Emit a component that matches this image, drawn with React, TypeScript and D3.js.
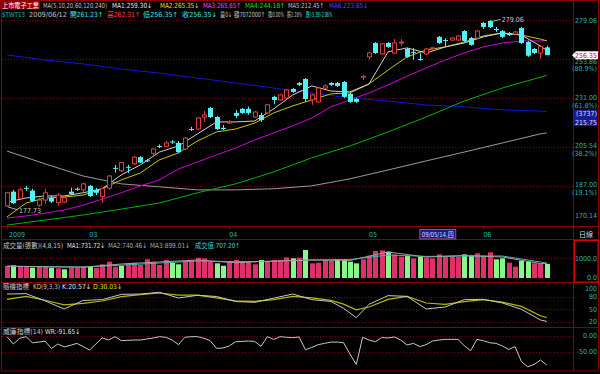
import * as d3 from "d3";

// ---- daily candles, 2009/02 .. 2009/06/12 ----
const OPEN = [178.2, 184.4, 181.5, 186.1, 184.9, 178.5, 180.7, 181.6, 179.6, 179.8, 184.4, 185.7, 185.2, 187.0, 185.2, 182.2, 186.0, 195.3, 194.0, 195.8, 197.2, 200.4, 198.9, 202.3, 205.9, 205.7, 208.1, 207.4, 204.4, 214.5, 214.5, 220.8, 225.7, 220.8, 215.1, 217.6, 223.0, 225.2, 225.2, 220.8, 221.9, 223.0, 231.8, 230.1, 231.2, 236.3, 239.7, 242.0, 230.1, 229.0, 236.8, 239.7, 239.7, 240.3, 233.5, 230.6, 243.1, 255.3, 264.0, 257.1, 264.0, 257.7, 264.0, 260.2, 258.4, 254.0, 257.1, 260.6, 267.9, 265.9, 265.9, 265.9, 271.7, 267.2, 267.2, 277.1, 278.4, 273.1, 271.7, 270.4, 269.8, 273.7, 264.6, 260.2, 257.7, 261.23];
const HIGH = [184.3, 185.2, 186.1, 187.0, 185.7, 181.6, 185.7, 182.5, 183.9, 182.5, 186.1, 186.3, 188.4, 187.4, 186.1, 186.1, 192.0, 196.7, 198.1, 196.7, 201.0, 201.0, 199.6, 204.9, 206.7, 208.4, 208.9, 208.4, 210.4, 215.6, 220.8, 224.1, 226.2, 221.4, 216.6, 219.2, 224.6, 225.7, 226.5, 224.1, 223.1, 227.9, 232.4, 233.5, 236.3, 236.8, 240.3, 242.6, 233.5, 237.4, 239.1, 240.3, 240.3, 240.8, 234.0, 231.2, 244.3, 258.5, 264.6, 264.0, 264.6, 266.5, 266.5, 260.9, 260.7, 257.6, 260.9, 261.5, 268.5, 267.0, 267.9, 269.1, 272.4, 267.9, 272.4, 277.7, 279.06, 274.4, 272.4, 271.1, 271.7, 274.4, 265.3, 260.9, 262.1, 262.31];
const LOW = [177.73, 178.9, 181.1, 184.8, 179.8, 177.8, 179.0, 179.4, 178.2, 179.4, 182.9, 184.8, 184.3, 182.0, 182.9, 179.5, 185.2, 193.1, 193.4, 192.9, 196.7, 197.6, 198.1, 201.5, 204.9, 205.4, 206.9, 202.4, 203.9, 213.5, 214.0, 218.2, 220.3, 214.0, 214.0, 217.1, 220.3, 222.5, 222.0, 220.3, 218.2, 222.5, 227.9, 229.6, 230.6, 234.0, 238.0, 229.0, 227.4, 228.5, 236.3, 238.0, 237.4, 231.2, 228.5, 228.5, 241.4, 253.8, 257.1, 256.5, 260.9, 257.1, 262.3, 254.7, 253.4, 252.9, 256.5, 259.6, 263.4, 261.7, 265.3, 265.3, 264.6, 262.2, 266.5, 273.1, 273.7, 271.1, 267.2, 268.5, 269.1, 263.4, 255.3, 257.1, 254.1, 256.35];
const CLOSE = [183.9, 179.3, 185.2, 185.7, 180.3, 180.7, 183.9, 180.0, 182.9, 181.6, 183.4, 185.2, 187.9, 182.5, 183.9, 185.7, 191.5, 195.0, 197.8, 195.5, 200.4, 197.8, 198.6, 204.4, 205.7, 207.4, 207.8, 202.9, 209.9, 214.3, 220.3, 221.9, 220.8, 214.5, 214.5, 218.2, 221.4, 223.0, 223.0, 223.5, 219.2, 227.4, 230.1, 232.9, 235.7, 234.6, 238.6, 230.6, 232.9, 236.8, 238.0, 238.6, 238.0, 231.8, 229.0, 229.0, 243.4, 257.7, 257.7, 263.4, 261.5, 264.0, 264.6, 255.3, 258.1, 253.7, 260.2, 260.9, 264.0, 265.6, 267.2, 268.5, 265.3, 262.8, 271.7, 274.4, 274.4, 272.4, 267.9, 269.1, 271.1, 264.0, 256.0, 257.7, 261.74, 256.35];

const MA_IDX = [0, 3, 6, 9, 12, 15, 18, 21, 24, 27, 30, 33, 36, 39, 42, 45, 48, 51, 54, 57, 60, 63, 66, 69, 72, 75, 78, 81, 84, 85];
const MA5 = [179.8, 181.6, 182.5, 182.5, 183.9, 185.7, 192.0, 196.7, 202.9, 205.9, 212.0, 218.2, 218.2, 218.7, 225.2, 232.9, 238.0, 235.1, 234.6, 239.1, 258.4, 260.9, 257.7, 261.5, 264.0, 267.9, 270.5, 269.1, 262.1, 259.3];
const MA10 = [173.5, 179.4, 181.6, 182.0, 182.9, 185.7, 189.7, 192.9, 199.1, 202.5, 208.4, 213.0, 214.5, 217.6, 223.0, 226.8, 230.1, 233.5, 234.0, 239.1, 247.3, 255.3, 259.6, 261.5, 264.6, 268.5, 270.5, 269.1, 266.5, 265.35];
const MA20 = [173.0, 173.9, 175.1, 176.4, 178.5, 181.1, 183.9, 187.0, 189.7, 194.8, 198.1, 201.5, 204.9, 208.9, 212.5, 216.1, 220.3, 226.3, 230.1, 234.0, 238.6, 243.7, 248.5, 253.4, 257.7, 261.5, 264.0, 265.3, 265.3, 265.65];
const LONG_IDX = [0, 6, 12, 18, 24, 30, 36, 42, 48, 54, 60, 66, 72, 78, 84, 85];
const MA60 = [170.1, 172.2, 174.3, 176.8, 179.4, 183.9, 187.9, 193.4, 200.1, 205.9, 213.0, 220.8, 229.5, 236.8, 243.1, 244.18];
const MA120 = [203.4, 197.2, 191.5, 187.9, 186.55, 185.2, 185.2, 185.7, 187.0, 190.2, 194.3, 198.6, 202.9, 207.4, 212.0, 212.45];
const MA240 = [256.5, 253.4, 251.0, 247.9, 245.5, 242.6, 239.7, 236.8, 234.0, 231.2, 229.5, 227.3, 226.3, 224.6, 224.0, 223.65];

// volume (張) and bar colour, 1 = up day
const VOLUME = [600, 635, 565, 565, 515, 565, 565, 515, 485, 435, 515, 515, 565, 565, 515, 685, 815, 565, 615, 735, 765, 650, 935, 815, 650, 900, 765, 685, 850, 900, 1015, 985, 815, 735, 615, 815, 900, 850, 815, 685, 900, 850, 900, 900, 1035, 985, 1015, 1400, 733, 767, 900, 870, 950, 933, 817, 733, 933, 1117, 1350, 1383, 1317, 1183, 1067, 1100, 983, 1067, 1017, 983, 1183, 1067, 1117, 1050, 1183, 1117, 1233, 1117, 1283, 933, 983, 767, 567, 867, 820, 733, 700, 707];
const VOL_UP = [1, 0, 1, 1, 0, 1, 1, 0, 1, 0, 1, 1, 1, 0, 1, 1, 1, 1, 0, 1, 1, 1, 1, 1, 1, 1, 0, 0, 1, 1, 1, 1, 1, 0, 0, 1, 1, 1, 1, 1, 0, 1, 1, 1, 1, 0, 1, 0, 1, 1, 1, 1, 0, 0, 0, 0, 1, 1, 1, 1, 0, 1, 1, 0, 1, 0, 1, 1, 1, 1, 1, 1, 0, 0, 1, 1, 1, 0, 0, 1, 1, 0, 0, 1, 1, 0];
const VOL_MA1 = [590, 560, 540, 700, 800, 900, 760, 850, 900, 880, 1300, 1050, 1120, 1050, 720, 735];
const VOL_MA2 = [590, 570, 550, 640, 750, 850, 820, 830, 900, 920, 1150, 1080, 1100, 1100, 800, 740];

// KD(9,3,3)
const KD_IDX = [0, 3, 6, 9, 12, 15, 18, 21, 24, 27, 30, 33, 36, 39, 42, 45, 48, 51, 53, 55, 57, 60, 63, 66, 69, 72, 75, 78, 81, 84, 85];
const K_VAL = [86.3, 87.1, 69.8, 50.5, 70.8, 72.8, 85.5, 86.3, 90.4, 76.8, 83.2, 80.4, 68.3, 66.4, 76.4, 86.3, 72.8, 68.5, 52.1, 29.6, 61.7, 82.4, 80.7, 50.5, 55.2, 72.8, 73.6, 64.8, 49.7, 24.1, 20.57];
const D_VAL = [73.6, 80.6, 71.3, 60.4, 64.0, 69.6, 79.9, 84.9, 88.7, 83.6, 83.6, 77.2, 69.9, 68.7, 72.8, 80.8, 77.1, 71.2, 62.0, 48.3, 55.2, 73.6, 80.5, 64.8, 61.7, 67.9, 72.8, 66.8, 56.7, 34.3, 30.03];

// Williams %R(14), every candle
const WR = [-3, -26, -8, -3, -22, -20, -17, -40, -26, -35, -30, -24, -34, -45, -26, -7, -13.5, -3, -15.6, -14.5, -13.5, -13.5, -10.4, -7.3, -3, -5, -13.5, -28, -5, -3, -3, -8, -15.6, -39.6, -38.5, -32, -18.8, -17.7, -16.7, -17.7, -33, -3, -11.5, -3, -5, -6, -4, -44, -36.5, -28, -24, -20, -20, -22, -57, -90, -5, -13.5, -18.8, -6, -7, -4, -13.5, -29, -24, -34, -28, -16.7, -13.5, -11.5, -11.5, -11.5, -31, -47, -11.5, -15.6, -22, -24, -32, -43, -34, -81, -97, -90, -76, -91.65];

// axis levels
const PRICE_TOP = 279.06;
const PRICE_BOTTOM = 170.14;
const FIB_VALUES = [253.86, 231.0, 205.54, 187.0];
const FIB_PCT = ["(80.9%)", "(61.8%)", "(38.2%)", "(19.1%)"];
const MONTH_LABELS = ["2009", "03", "04", "05", "06"];
const MONTH_IDX = [0, 13, 35, 57, 75];
const CURSOR_IDX = 65;
const KD_TICKS = [100, 80, 50, 20];
const WR_TICKS = [0, -50];

const RED = "#d8403c";
const CYAN = "#52f2f2";
const FRAME = "#8a0000";
const GRID = "#800000";
const AXIS_TXT = "#2ab4b4";
const FONT = "'Liberation Sans Narrow','DejaVu Sans Condensed','Noto Sans CJK TC',sans-serif";

const x = d3.scaleLinear().domain([0, CLOSE.length - 1]).range([7, 546.8]);
const yMain = d3.scaleLog().domain([PRICE_BOTTOM, PRICE_TOP]).range([225, 20]);
const yVol = d3.scaleLinear().domain([0, 1000]).range([278, 258]);
const yKD = d3.scaleLinear().domain([20, 100]).range([321.7, 288.3]);
const yWR = d3.scaleLinear().domain([-50, 0]).range([351.7, 335.7]);

const PLOT_L = 2;
const PLOT_R = 573.5;
const RIGHT = 598.5;

function path(idx: number[], vals: number[], y: (v: number) => number) {
  return (
    d3
      .line<number>()
      .x((_, k) => x(idx[k]))
      .y((v) => y(v))(vals) ?? ""
  );
}

// header segments: [text, left x, colour, width]
type Item = [string, number, string, number];

function Seg({ items, y }: { items: Item[]; y: number }) {
  return (
    <g fontSize={7} fontFamily={FONT}>
      {items.map(([t, tx, c, w], i) => (
        <text key={i} x={tx} y={y} fill={c} textLength={w} lengthAdjust="spacingAndGlyphs">
          {t}
        </text>
      ))}
    </g>
  );
}

export default function App() {
  const idxAll = CLOSE.map((_, i) => i);
  const hiIdx = HIGH.indexOf(d3.max(HIGH) as number);
  const loIdx = LOW.indexOf(d3.min(LOW) as number);
  const last = CLOSE[CLOSE.length - 1];
  const yLast = yMain(last);

  return (
    <svg
      width={600}
      height={374}
      style={{ position: "absolute", left: 0, top: 0, display: "block" }}
    >
      <rect width={600} height={374} fill="#000" />
      <defs>
        <clipPath id="mainClip">
          <rect x={PLOT_L} y={2} width={PLOT_R - PLOT_L} height={224.5} />
        </clipPath>
      </defs>

      {/* header */}
      <rect x={0} y={0} width={40} height={9.5} fill="#900000" />
      <Seg
        y={7.5}
        items={[
          ["上市電子工業", 2, "#ffffff", 37],
          ["MA(5,10,20,60,120,240)", 43, "#c0c0c0", 64],
          ["MA1:259.30↓", 112, "#e8e8e8", 40],
          ["MA2:265.35↓", 160, "#e0e000", 39],
          ["MA3:265.65↑", 203, "#ff40ff", 38],
          ["MA4:244.18↑", 245, "#00e000", 40],
          ["MA5:212.45↑", 288, "#c0c0c0", 36],
          ["MA6:223.65↓", 329, "#4848ff", 39],
        ]}
      />
      <Seg
        y={16.5}
        items={[
          ["$TWT13", 2, "#00c0c0", 23],
          ["2009/06/12", 29, "#c0c0c0", 38],
          ["開261.23↑", 70, "#40e0e0", 33],
          ["高262.31↑", 107, "#ff4040", 33],
          ["低256.35↑", 143, "#40e0e0", 35],
          ["收256.35↓", 182, "#40e0e0", 35],
          ["量0↓", 220, "#c0c0c0", 12],
          ["額7072000↑", 234, "#c0c0c0", 31],
          ["換0.00%", 268, "#c0c0c0", 16],
          ["振2.28%", 287, "#c0c0c0", 15],
          ["跌(-5.39)-2.06%", 306, "#40e0e0", 26],
        ]}
      />

      {/* grid */}
      <g stroke={GRID} strokeDasharray="1,2" strokeWidth={1}>
        {[PRICE_TOP, ...FIB_VALUES].map((v) => (
          <line
            key={v}
            x1={PLOT_L}
            x2={PLOT_R}
            y1={Math.round(yMain(v)) + 0.5}
            y2={Math.round(yMain(v)) + 0.5}
          />
        ))}
        <line x1={PLOT_L} x2={PLOT_R} y1={yVol(1000) + 0.5} y2={yVol(1000) + 0.5} />
        {[80, 50, 20].map((v) => (
          <line key={v} x1={PLOT_L} x2={PLOT_R} y1={Math.round(yKD(v)) + 0.5} y2={Math.round(yKD(v)) + 0.5} />
        ))}
        {WR_TICKS.map((v) => (
          <line key={v} x1={PLOT_L} x2={PLOT_R} y1={Math.round(yWR(v)) + 0.5} y2={Math.round(yWR(v)) + 0.5} />
        ))}
      </g>

      {/* moving averages + candles */}
      <g clipPath="url(#mainClip)" fill="none" strokeWidth={1}>
        <path d={path(LONG_IDX, MA240, yMain)} stroke="#1414d8" />
        <path d={path(LONG_IDX, MA120, yMain)} stroke="#9a9a9a" />
        <path d={path(LONG_IDX, MA60, yMain)} stroke="#00b400" />
        <path d={path(MA_IDX, MA20, yMain)} stroke="#d400d4" />
        <path d={path(MA_IDX, MA10, yMain)} stroke="#c8c800" />
        <path d={path(MA_IDX, MA5, yMain)} stroke="#d0d0d0" />
        {idxAll.map((i) => {
          const c = Math.round(x(i));
          const up = CLOSE[i] >= OPEN[i];
          const col = up ? RED : CYAN;
          const top = yMain(Math.max(OPEN[i], CLOSE[i]));
          const bot = yMain(Math.min(OPEN[i], CLOSE[i]));
          return (
            <g key={i}>
              <line x1={c + 0.5} x2={c + 0.5} y1={yMain(HIGH[i])} y2={yMain(LOW[i])} stroke={col} />
              {up ? (
                <rect x={c - 1.5} y={top} width={4} height={Math.max(0.5, bot - top)} fill="#000" stroke={col} />
              ) : (
                <rect x={c - 2} y={top} width={5} height={Math.max(1, bot - top)} fill={col} />
              )}
            </g>
          );
        })}
      </g>

      {/* high / low markers */}
      <g stroke="#b0b0b0" fill="none">
        <line x1={x(hiIdx) + 1.5} y1={yMain(HIGH[hiIdx]) + 1.5} x2={x(hiIdx) + 11} y2={yMain(HIGH[hiIdx]) - 0.5} />
        <line x1={x(loIdx) + 1} y1={yMain(LOW[loIdx])} x2={x(loIdx) + 11} y2={yMain(LOW[loIdx]) + 3} />
      </g>
      <g fontSize={7} fontFamily={FONT} fill="#c8c8c8">
        <text x={x(hiIdx) + 12} y={yMain(HIGH[hiIdx]) + 2}>
          {HIGH[hiIdx].toFixed(2)}
        </text>
        <text x={x(loIdx) + 12} y={yMain(LOW[loIdx]) + 6}>
          {LOW[loIdx].toFixed(2)}
        </text>
      </g>

      {/* volume */}
      <Seg
        y={247.5}
        items={[
          ["成交量(張數)(4,8,15)", 3, "#c8c8c8", 60],
          ["MA1:731.72↓", 67, "#e0e0e0", 38],
          ["MA2:740.46↓", 108, "#a8a8a8", 39],
          ["MA3:899.01↓", 150, "#a8a8a8", 40],
          ["成交值:707.20↑", 195, "#40d0d0", 45],
        ]}
      />
      {idxAll.map((i) => {
        const c = Math.round(x(i));
        return (
          <rect
            key={i}
            x={c - 2}
            y={yVol(VOLUME[i])}
            width={5}
            height={yVol(0) - yVol(VOLUME[i])}
            fill={VOL_UP[i] ? "#e0306c" : "#88f888"}
          />
        );
      })}
      <path d={path(LONG_IDX, VOL_MA2, yVol)} stroke="#38b8b8" fill="none" />
      <path d={path(LONG_IDX, VOL_MA1, yVol)} stroke="#a0a0a0" fill="none" />

      {/* KD */}
      <Seg
        y={288.5}
        items={[
          ["隨機指標", 3, "#c8c8c8", 26],
          ["KD(9,3,3)", 33, "#c8c8c8", 27],
          ["K:20.57↓", 62, "#e0e0e0", 29],
          ["D:30.03↓", 93, "#e0e000", 29],
        ]}
      />
      <path d={path(KD_IDX, D_VAL, yKD)} stroke="#b8b800" fill="none" strokeWidth={1.2} />
      <path d={path(KD_IDX, K_VAL, yKD)} stroke="#c8c8c8" fill="none" />

      {/* WR */}
      <Seg
        y={333.5}
        items={[
          ["威廉指標(14)", 3, "#c8c8c8", 40],
          ["WR:-91.65↓", 45, "#e0e0e0", 35],
        ]}
      />
      <path d={path(idxAll, WR, yWR)} stroke="#c8c8c8" fill="none" />

      {/* frame */}
      <g stroke={FRAME} strokeWidth={1} fill="none">
        <rect x={1.5} y={0.5} width={RIGHT - 1.5} height={370.5} />
        <line x1={PLOT_R} x2={PLOT_R} y1={0} y2={371} />
        {[226.5, 239.5, 282.5, 327.5].map((yy) => (
          <line key={yy} x1={1.5} x2={RIGHT} y1={yy} y2={yy} />
        ))}
        {MONTH_IDX.map((m) => (
          <line key={m} x1={Math.round(x(m)) + 0.5} x2={Math.round(x(m)) + 0.5} y1={226.5} y2={229.5} />
        ))}
      </g>
      <rect x={574.5} y={240.5} width={23.5} height={41.5} fill="none" stroke="#e00000" />

      {/* date axis */}
      <g fontSize={7} fontFamily={FONT} fill={AXIS_TXT}>
        {MONTH_LABELS.map((t, k) => (
          <text key={t} x={x(MONTH_IDX[k]) + (k === 0 ? 2 : 0)} y={236.5}>
            {t}
          </text>
        ))}
      </g>
      <rect x={x(CURSOR_IDX)} y={229.5} width={36} height={9.5} fill="#1a1a8a" stroke="#c04848" />
      <text
        x={x(CURSOR_IDX) + 18}
        y={237}
        fontSize={7}
        fontFamily={FONT}
        fill="#d8d8ff"
        textAnchor="middle"
        textLength={32}
        lengthAdjust="spacingAndGlyphs"
      >
        09/05/14,四
      </text>
      <text x={586} y={237} fontSize={7} fontFamily={FONT} fill="#d8d8d8" textAnchor="middle">
        日線
      </text>

      {/* right axis labels */}
      <g fontSize={7} fontFamily={FONT} fill={AXIS_TXT} textAnchor="end">
        <text x={597} y={yMain(PRICE_TOP) + 2.5}>{PRICE_TOP.toFixed(2)}</text>
        {FIB_VALUES.map((v, k) => (
          <g key={v}>
            <text x={597} y={yMain(v) + (k === 0 ? 4.5 : 1.5)}>{v.toFixed(2)}</text>
            <text x={597} y={yMain(v) + (k === 0 ? 11.5 : 9.5)}>{FIB_PCT[k]}</text>
          </g>
        ))}
        <text x={597} y={yMain(PRICE_BOTTOM) - 7.5}>{PRICE_BOTTOM.toFixed(2)}</text>
        <text x={597} y={yVol(1000) + 2.5}>1000.0</text>
        <text x={597} y={yVol(0) + 1.5}>0.0</text>
        {KD_TICKS.map((v) => (
          <text key={v} x={597} y={yKD(v) + 2.5}>{v}</text>
        ))}
        {WR_TICKS.map((v) => (
          <text key={v} x={597} y={yWR(v) + 2.5}>{v.toFixed(2)}</text>
        ))}
      </g>

      {/* last price marker */}
      <polygon
        points={`572,${yLast} 576,${yLast - 4} 598,${yLast - 4} 598,${yLast + 4} 576,${yLast + 4}`}
        fill="#ffffff"
      />
      <text x={597} y={yLast + 2.5} fontSize={7} fontFamily={FONT} fill="#e00000" textAnchor="end">
        {last.toFixed(2)}
      </text>

      {/* cursor value box */}
      <rect x={574} y={109.5} width={23.5} height={16.5} fill="#1a1a8a" />
      <g fontSize={7} fontFamily={FONT} fill="#b8e8ff" textAnchor="end">
        <text x={597} y={116}>(3737)</text>
        <text x={597} y={124.5}>215.75</text>
      </g>
    </svg>
  );
}
